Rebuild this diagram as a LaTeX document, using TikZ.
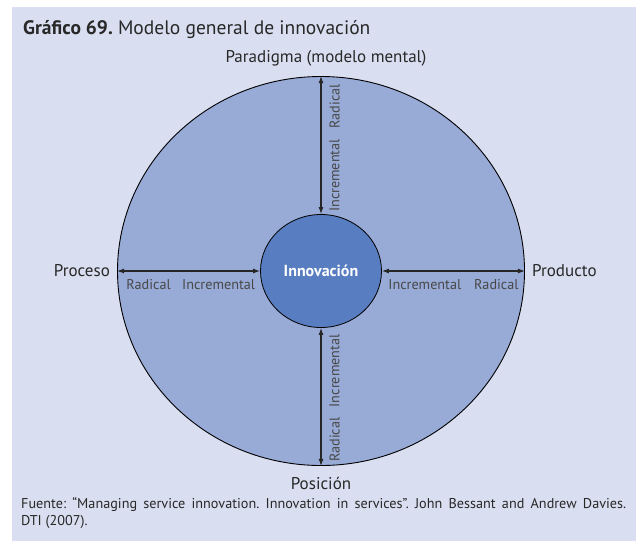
\documentclass[tikz,border=0pt]{standalone}
\usepackage{fontspec}
\setmainfont{PT Sans}
\usetikzlibrary{positioning, arrows.meta, shapes.geometric}

\definecolor{panelbg}{RGB}{217,222,240}
\definecolor{ringfill}{RGB}{152,170,214}
\definecolor{corefill}{RGB}{88,125,192}
\definecolor{txtdark}{RGB}{40,40,40}
\definecolor{txtgray}{RGB}{72,72,72}

\begin{document}
\frenchspacing
\begin{tikzpicture}[x=1pt, y=-1pt, >={Latex[length=7pt, width=5pt]},
  axislab/.style={font=\fontsize{17}{20}\selectfont, text=txtdark, inner sep=0pt},
  kindlab/.style={font=\fontsize{14.2}{17}\selectfont, text=txtgray,
    inner xsep=2pt, inner ysep=8pt},
  link/.style={<->, line width=1.1pt, draw=black!85}]

\useasboundingbox (0,0) rectangle (636,541);

% --- Background panel ---
\fill[panelbg] (12,7) rectangle (636,541);

% --- Title ---
\node[anchor=base west, font=\fontsize{19.5}{23}\selectfont, text=txtdark,
  inner sep=0pt] (title) at (23,34)
  {\textbf{Gráfico 69.} Modelo general de innovación};

% --- Outer ring and core ---
\node[ellipse, draw=black, line width=0.9pt, fill=ringfill, inner sep=0pt,
  minimum width=407pt, minimum height=389pt] (ring) at (321,271) {};
\node[ellipse, draw=black, line width=0.8pt, fill=corefill, inner sep=0pt,
  minimum width=121pt, minimum height=113pt, text=white,
  font=\fontsize{16}{19}\selectfont\bfseries] (core) at (321,271) {Innovación};

% --- Dimension labels ---
\node[axislab, anchor=base] (parad) at ([xshift=5pt, yshift=14pt]ring.north)
  {Paradigma (modelo mental)};
\node[axislab, anchor=base] (posic) at ([yshift=-24pt]ring.south) {Posición};
\node[axislab, left=7pt of ring.west] (proces) {Proceso};
\node[axislab, right=7pt of ring.east] (produc) {Producto};

% --- Arrows with degree of change ---
\draw[link] (core.west) -- (ring.west)
  node[kindlab, pos=0.29, below] (incW) {Incremental}
  node[kindlab, pos=0.78, below] (radW) {Radical};
\draw[link] (core.east) -- (ring.east)
  node[kindlab, pos=0.30, below] (incE) {Incremental}
  node[kindlab, pos=0.80, below] (radE) {Radical};
\draw[link] (core.north) -- (ring.north)
  node[kindlab, pos=0.28, rotate=90, anchor=north] (incN) {Incremental}
  node[kindlab, pos=0.78, rotate=90, anchor=north] (radN) {Radical};
\draw[link] (core.south) -- (ring.south)
  node[kindlab, pos=0.31, rotate=90, anchor=north] (incS) {Incremental}
  node[kindlab, pos=0.81, rotate=90, anchor=north] (radS) {Radical};

% --- Source ---
\node[anchor=north west, text width=605pt, align=justify, inner sep=0pt,
  font=\fontsize{14.2}{17}\selectfont, text=txtdark] (src) at (21,497)
  {Fuente: “Managing service innovation. Innovation in services”. John Bessant and Andrew Davies.\linebreak DTI (2007).};

\end{tikzpicture}
\end{document}
